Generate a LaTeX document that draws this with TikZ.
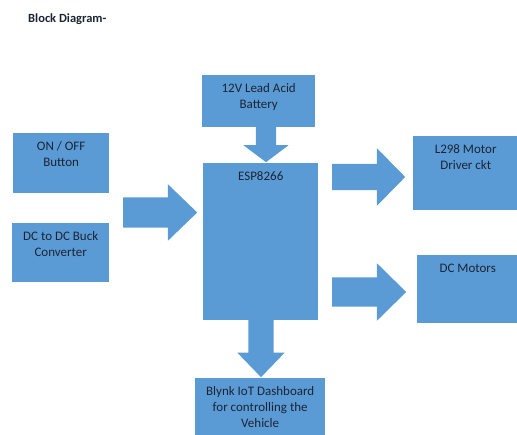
\documentclass[tikz,border=0pt]{standalone}
\usepackage{fontspec}
\setmainfont{Carlito}
\usepackage{xcolor}
\usepackage{tikz}
\usetikzlibrary{shapes.arrows}
\definecolor{blockblue}{RGB}{91,155,213}
\definecolor{inkblue}{RGB}{28,36,52}

\begin{document}
\begin{tikzpicture}[x=1pt,y=-1pt,
    box/.style={fill=blockblue,anchor=north west,inner sep=0pt},
    boxtxt/.style={anchor=north,yshift=-8.5pt,inner sep=0pt,align=center,
      text=inkblue,font=\fontsize{13}{16}\selectfont},
    barrow/.style={single arrow,fill=blockblue,inner sep=0pt,anchor=tail}]
  \useasboundingbox (0,0) rectangle (517,435);
  \node[anchor=west,inner sep=0pt,text=inkblue,font=\fontsize{12.5}{15}\selectfont\bfseries] (title) at (28,19) {Block Diagram-};
  % blocks
  \node[box,minimum width=113,minimum height=52,label={[boxtxt]north:12V Lead Acid\\Battery}] (bat) at (202,75) {};
  \node[box,minimum width=115,minimum height=157,label={[boxtxt]north:ESP8266}] (esp) at (203,163) {};
  \node[box,minimum width=96,minimum height=60,label={[boxtxt]north:ON / OFF\\Button}] (onoff) at (13,133) {};
  \node[box,minimum width=97,minimum height=59,label={[boxtxt]north:DC to DC Buck\\Converter}] (buck) at (12,223) {};
  \node[box,minimum width=105,minimum height=74,label={[boxtxt]north:L298 Motor\\Driver ckt}] (drv) at (413,136) {};
  \node[box,minimum width=101,minimum height=68,label={[boxtxt]north:DC Motors}] (mot) at (417,255) {};
  \node[box,minimum width=130,minimum height=58,label={[boxtxt]north:Blynk IoT Dashboard\\for controlling the\\Vehicle}] (app) at (195,378) {};
  % block arrows
  \node[barrow,rotate=-90,inner ysep=10,single arrow head extend=12.5,single arrow tip angle=106,minimum height=35] (a_bat) at (266,127) {};
  \node[barrow,inner ysep=15,single arrow head extend=13,single arrow tip angle=88,minimum height=74] (a_in) at (123,212.5) {};
  \node[barrow,inner ysep=13,single arrow head extend=15.5,single arrow tip angle=91,minimum height=73] (a_drv) at (332,177) {};
  \node[barrow,inner ysep=14.5,single arrow head extend=14,single arrow tip angle=89,minimum height=74] (a_mot) at (332,292) {};
  \node[barrow,rotate=-90,inner ysep=12.5,single arrow head extend=11,single arrow tip angle=88,minimum height=57] (a_app) at (261,320) {};
\end{tikzpicture}
\end{document}
